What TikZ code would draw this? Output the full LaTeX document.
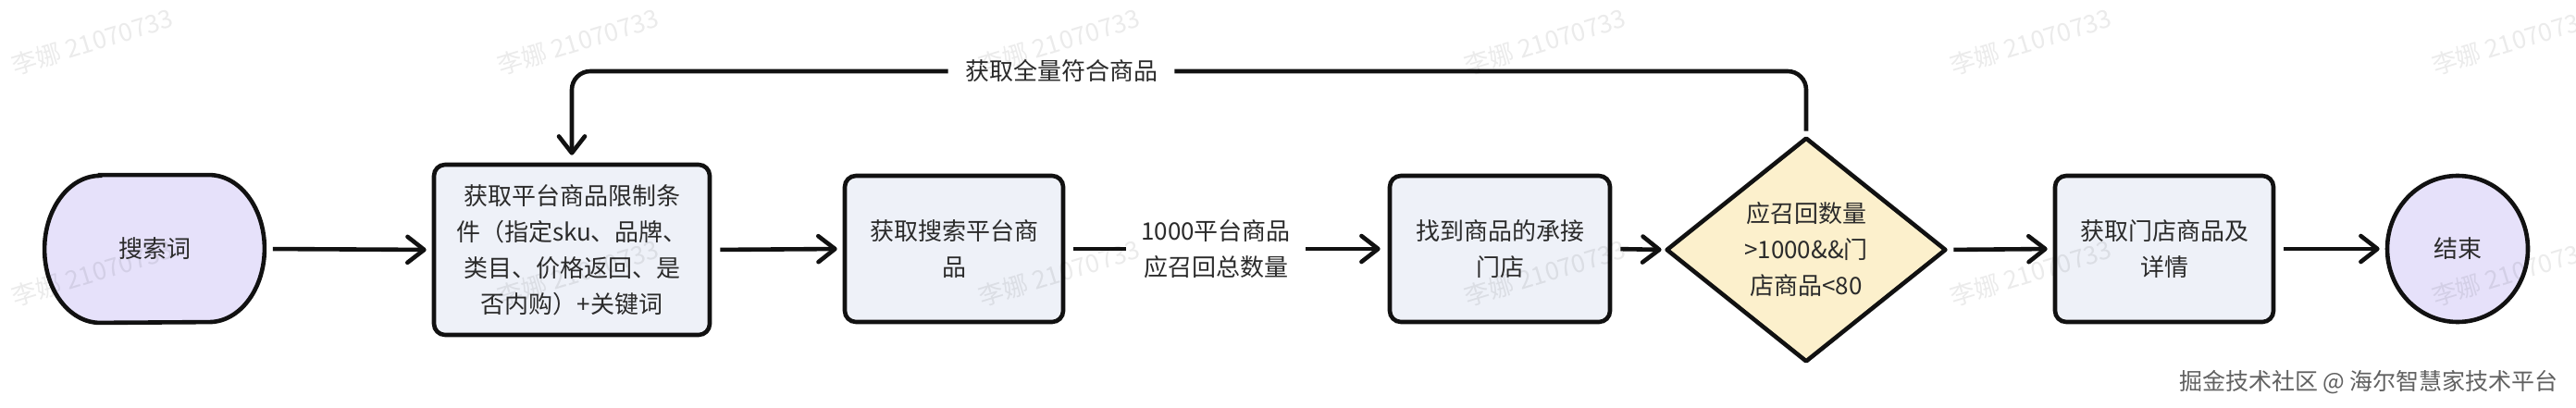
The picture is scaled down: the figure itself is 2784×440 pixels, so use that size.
\documentclass[tikz,border=0pt]{standalone}
\usepackage{fontspec}
\setmainfont{Noto Sans CJK SC}
\usetikzlibrary{arrows.meta,calc,shapes.geometric}
\pgfdeclarelayer{canvas}
\pgfdeclarelayer{bg}
\pgfsetlayers{canvas,bg,main}
\definecolor{lav}{HTML}{E6E1FA}
\definecolor{boxfill}{HTML}{EEF1F8}
\definecolor{cream}{HTML}{FCF0CC}
\definecolor{txt}{HTML}{2B2B2B}
\definecolor{edge}{HTML}{111111}
\tikzset{
  flow/.style={line width=2.3pt, draw=edge},
  arr/.style={flow, -{Straight Barb[length=9pt,width=14pt,round]}},
  nodetext/.style={inner sep=0pt, align=center, text=txt, font=\fontsize{13}{19.5}\selectfont},
  procbox/.style={nodetext, draw=edge, line width=2.3pt, fill=boxfill, rounded corners=6pt, minimum height=79pt},
  termtext/.style={nodetext, minimum width=118.5pt, minimum height=79.5pt},
  termfill/.style={draw=edge, line width=2.3pt, fill=lav},
  decfill/.style={draw=edge, line width=2.3pt, fill=cream, line join=round},
  edgelabel/.style={nodetext, inner ysep=2pt, inner xsep=8pt, fill=white},
  wm/.style={text=black, text opacity=0.08, font=\fontsize{13.5}{13.5}\selectfont, rotate=17},
  credit/.style={text=black!62, font=\fontsize{12.5}{12.5}\selectfont, anchor=east}
}
\begin{document}
\begin{tikzpicture}[x=0.5pt,y=0.5pt]
\begin{pgfonlayer}{canvas}
  \fill[white] (0,0) rectangle (2784,440);
\end{pgfonlayer}
\useasboundingbox (0,0) rectangle (2784,440);

% nodes
\node[termtext] (s) at (167,171) {搜索词};
\node[procbox, minimum width=149pt, minimum height=92pt] (b1) at (618,170)
  {获取平台商品限制条\\件（指定sku、品牌、\\类目、价格返回、是\\否内购）+关键词};
\node[procbox, minimum width=118pt] (b2) at (1031,171) {获取搜索平台商\\品};
\node[edgelabel] (l1) at (1314,171) {1000平台商品\\应召回总数量};
\node[procbox, minimum width=119pt] (b3) at (1621,171) {找到商品的承接\\门店};
\node[nodetext, minimum width=150pt, minimum height=120pt] (d) at (1952,170)
  {应召回数量\\>1000\&\&门\\店商品<80};
\node[procbox, minimum width=118pt] (b4) at (2339,171) {获取门店商品及\\详情};
\node[nodetext, draw=edge, line width=2.3pt, fill=lav, ellipse, minimum width=76pt, minimum height=79pt] (e) at (2656,171) {结束};
\node[edgelabel, inner xsep=9pt] (l2) at (1147,363) {获取全量符合商品};

% shapes drawn behind their texts
\begin{pgfonlayer}{bg}
  \draw[termfill] ($(s.north west)+(30pt,0)$) -- ($(s.north east)+(-30pt,0)$)
     arc[start angle=90, end angle=-90, x radius=30pt, y radius=39.75pt]
     -- ($(s.south west)+(30pt,0)$)
     arc[start angle=270, end angle=90, x radius=30pt, y radius=39.75pt] -- cycle;
  \draw[decfill] (d.north) -- (d.east) -- (d.south) -- (d.west) -- cycle;
\end{pgfonlayer}

% connectors
\draw[arr, shorten <=4.5pt, shorten >=3pt] (s.east) -- (b1.west);
\draw[arr, shorten <=4.5pt, shorten >=3pt] (b1.east) -- (b2.west);
\draw[flow, shorten <=4.5pt] (b2.east) -- (l1.west);
\draw[arr, shorten >=4pt] (l1.east) -- (b3.west);
\draw[arr, shorten <=4.5pt, shorten >=3pt] (b3.east) -- (d.west);
\draw[arr, shorten <=4.5pt, shorten >=3pt] (d.east) -- (b4.west);
\draw[arr, shorten <=4.5pt, shorten >=3pt] (b4.east) -- (e.west);
\draw[flow, rounded corners=10pt, shorten <=4pt] (d.north) -- (d.north |- l2) -- (l2.east);
\draw[arr, rounded corners=10pt, shorten >=4pt] (l2.west) -- (b1.north |- l2) -- (b1.north);

% watermarks
\foreach \wx in {100,625,1145,1670,2195,2715} {
  \node[wm] at (\wx,395) {李娜 21070733};
  \node[wm] at (\wx,145) {李娜 21070733};
}
\node[credit] (cr) at (2772,27) {掘金技术社区 @ 海尔智慧家技术平台};
\end{tikzpicture}
\end{document}
